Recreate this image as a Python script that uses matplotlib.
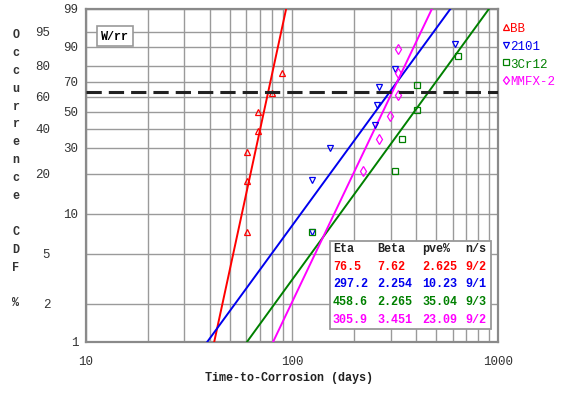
import numpy as np
import matplotlib
matplotlib.use('Agg')
import matplotlib.pyplot as plt
from matplotlib.transforms import blended_transform_factory
from matplotlib.patches import Rectangle

plt.rcParams['font.family'] = ['Liberation Mono', 'DejaVu Sans Mono']

names = ['BB', '2101', '3Cr12', 'MMFX-2']
colors = ['#ff0000', '#0000ee', '#008000', '#ff00ff']
markers = ['^', 'v', 's', 'd']

# weibull fit results (table)
eta = [76.5, 297.2, 458.6, 305.9]
beta = [7.62, 2.254, 2.265, 3.451]
pve = ['2.625', '10.23', '35.04', '23.09']
ns = ['9/2', '9/1', '9/3', '9/2']

# plotted points: time (days), occurrence CDF (%)
bb_t = [60.2, 60.2, 60.2, 68.5, 68.5, 79.5, 88.9]
bb_f = [7.3, 17.7, 28.1, 38.8, 49.8, 62.9, 75.8]
d2101_t = [124.3, 124.3, 152.5, 252.1, 258.6, 264.5, 315.1, 619.4]
d2101_f = [7.3, 17.9, 30.1, 41.8, 54.4, 66.6, 78.5, 91.0]
cr12_t = [124.3, 315.1, 342.0, 404.4, 404.4, 639.0]
cr12_f = [7.3, 21.0, 34.4, 51.3, 68.2, 85.5]
mmfx_t = [221.2, 264.5, 298.1, 327.0, 327.0, 327.0]
mmfx_f = [21.0, 34.4, 47.7, 61.5, 76.1, 89.0]

pts_t = [bb_t, d2101_t, cr12_t, mmfx_t]
pts_f = [bb_f, d2101_f, cr12_f, mmfx_f]

yticks = [1, 2, 5, 10, 20, 30, 40, 50, 60, 70, 80, 90, 95, 99]
yticks_left = [2, 5, 20, 40, 60, 80, 95]


def fwd(F):
    F = np.clip(np.asarray(F, dtype=float), 1e-6, 99.99999)
    return np.log(-np.log(1 - F / 100))


def inv(Y):
    return 100 * (1 - np.exp(-np.exp(Y)))


fig = plt.figure(figsize=(5.61, 4.02), dpi=100)
ax = fig.add_axes([86 / 561, 1 - 343.3 / 402, 412.3 / 561, 333.3 / 402])
ax.set_xscale('log')
ax.set_yscale('function', functions=(fwd, inv))
ax.set_xlim(10, 1000)
ax.set_ylim(1, 99)

# grid
ax.set_yticks(yticks)
ax.set_yticklabels([])
ax.set_xticks([10, 100, 1000])
ax.set_xticklabels(['10', '100', '1000'])
ax.grid(True, which='both', color='#9a9a9a', lw=1.0)
ax.tick_params(which='both', length=0, labelsize=9, pad=9, colors='#333333')
for s in ax.spines.values():
    s.set_color('#8a8a8a')
    s.set_linewidth(1.6)

# y tick labels, staggered in two columns
tr = blended_transform_factory(ax.transAxes, ax.transData)
for v in yticks:
    xo = -0.087 if v in yticks_left else -0.019
    ax.text(xo, v, str(v), transform=tr, ha='right', va='center',
            fontsize=9, color='#333333')

# fit lines
Fl = np.linspace(0.5, 99.5, 400)
for e, b, c in zip(eta, beta, colors):
    tl = e * (-np.log(1 - Fl / 100)) ** (1 / b)
    ax.plot(tl, Fl, color=c, lw=1.4, zorder=3)

# points
handles = []
for t, f, c, m, n in zip(pts_t, pts_f, colors, markers, names):
    h, = ax.plot(t, f, ls='none', marker=m, ms=5, mfc='none', mec=c,
                 mew=0.9, zorder=4, label=n)
    handles.append(h)

ax.axhline(inv(0.0), color='#222222', lw=2.2, dashes=(5, 2.3), zorder=5)

# legend
leg = ax.legend(handles=handles, loc='upper left', bbox_to_anchor=(1.01, 0.96),
                frameon=False, handlelength=0.5, handletextpad=0.1,
                labelspacing=0.45, borderaxespad=0, borderpad=0,
                markerscale=0.85, prop={'size': 9}, labelcolor=colors)

# W/rr box
ax.text(0.07, 0.919, 'W/rr', transform=ax.transAxes, ha='center', va='center',
        fontsize=8.5, weight='bold', zorder=6,
        bbox=dict(boxstyle='square,pad=0.35', fc='white', ec='#999999', lw=1.2))

# results table
ax.add_patch(Rectangle((0.592, 0.040), 0.390, 0.264, transform=ax.transAxes,
                       fc='white', ec='#999999', lw=1.3, zorder=6))
colx = [0.599, 0.706, 0.815, 0.919]
rowy = [0.283, 0.230, 0.177, 0.124, 0.071]
for x, h in zip(colx, ['Eta', 'Beta', 'pve%', 'n/s']):
    ax.text(x, rowy[0], h, transform=ax.transAxes, ha='left', va='center',
            fontsize=8.5, weight='bold', color='#222222', zorder=7)
for i in range(4):
    vals = [f'{eta[i]}', f'{beta[i]}', pve[i], ns[i]]
    for x, v in zip(colx, vals):
        ax.text(x, rowy[i + 1], v, transform=ax.transAxes, ha='left',
                va='center', fontsize=8.5, weight='bold', color=colors[i],
                zorder=7)

# axis labels
ylab = 'Occurrence CDF %'
for i, ch in enumerate(ylab):
    fig.text(16 / 561, 1 - (35 + 17.9 * i) / 402, ch, ha='center',
             va='center', fontsize=8.5, weight='bold', color='#333333')
fig.text(289 / 561, 1 - 378 / 402, 'Time-to-Corrosion (days)', ha='center',
         va='center', fontsize=8.5, weight='bold', color='#222222')

fig.savefig('out.png', dpi=100)
